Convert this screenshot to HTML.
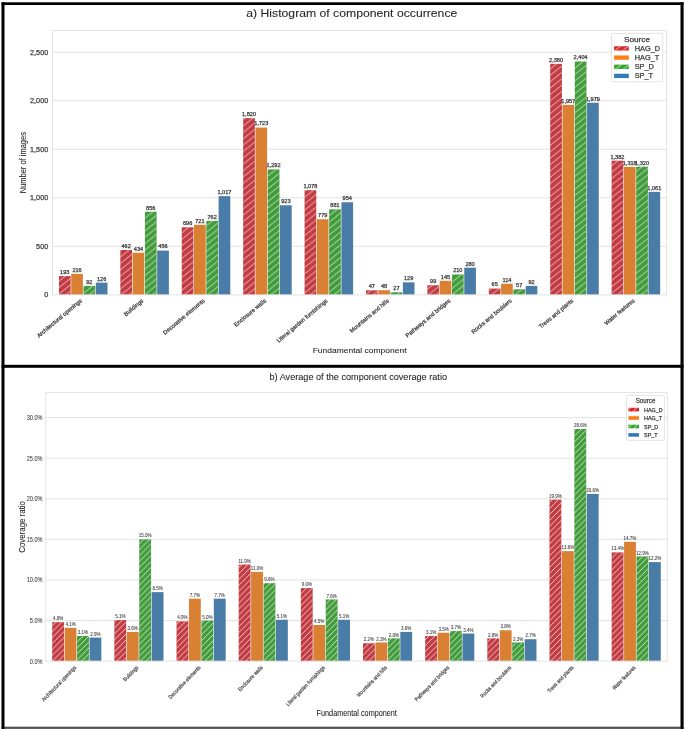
<!DOCTYPE html><html><head><meta charset="utf-8"><style>html,body{margin:0;padding:0;background:#fff;}svg{display:block;will-change:transform;font-family:"Liberation Sans",sans-serif;}</style></head><body><svg width="685" height="730" viewBox="0 0 685 730" font-family="Liberation Sans, sans-serif"><defs><filter id="tb" x="-20%" y="-50%" width="140%" height="200%"><feGaussianBlur stdDeviation="0.28"/></filter><pattern id="h1" patternUnits="userSpaceOnUse" x="0" y="4.06" width="7.882" height="6.370"><path d="M-7.882,12.740 L15.764,-6.370" stroke="#fff" stroke-opacity="0.95" stroke-width="0.75" fill="none"/></pattern><pattern id="h2" patternUnits="userSpaceOnUse" x="0" y="4.64" width="5.862" height="5.910"><path d="M-5.862,11.820 L11.724,-5.910" stroke="#fff" stroke-opacity="0.95" stroke-width="0.75" fill="none"/></pattern><pattern id="h1L" patternUnits="userSpaceOnUse" x="0" y="1.20" width="7.960" height="6.370"><path d="M-7.960,12.740 L15.920,-6.370" stroke="#fff" stroke-opacity="0.85" stroke-width="0.9" fill="none"/></pattern><pattern id="h2L" patternUnits="userSpaceOnUse" x="0" y="0.71" width="6.000" height="5.910"><path d="M-6.000,11.820 L12.000,-5.910" stroke="#fff" stroke-opacity="0.8" stroke-width="0.9" fill="none"/></pattern></defs><rect x="0" y="0" width="685" height="730" fill="#fff"/>
<line x1="52.50" y1="246.31" x2="666.60" y2="246.31" stroke="#e3e3e3" stroke-width="1.0"/>
<line x1="52.50" y1="197.78" x2="666.60" y2="197.78" stroke="#e3e3e3" stroke-width="1.0"/>
<line x1="52.50" y1="149.24" x2="666.60" y2="149.24" stroke="#e3e3e3" stroke-width="1.0"/>
<line x1="52.50" y1="100.70" x2="666.60" y2="100.70" stroke="#e3e3e3" stroke-width="1.0"/>
<line x1="52.50" y1="52.17" x2="666.60" y2="52.17" stroke="#e3e3e3" stroke-width="1.0"/>
<rect x="58.94" y="276.11" width="11.68" height="18.74" fill="#c33b42"/>
<rect x="58.94" y="276.11" width="11.68" height="18.74" fill="url(#h1)"/>
<text x="64.78" y="274.01" font-size="4.90" text-anchor="middle" textLength="9.32" lengthAdjust="spacingAndGlyphs" fill="#404040" stroke="#404040" stroke-width="0.25">193</text>
<rect x="71.22" y="273.88" width="11.68" height="20.97" fill="#d98033"/>
<text x="77.06" y="271.78" font-size="4.90" text-anchor="middle" textLength="9.32" lengthAdjust="spacingAndGlyphs" fill="#404040" stroke="#404040" stroke-width="0.25">216</text>
<rect x="83.50" y="285.92" width="11.68" height="8.93" fill="#429c3c"/>
<rect x="83.50" y="285.92" width="11.68" height="8.93" fill="url(#h1)"/>
<text x="89.35" y="283.82" font-size="4.90" text-anchor="middle" textLength="6.21" lengthAdjust="spacingAndGlyphs" fill="#404040" stroke="#404040" stroke-width="0.25">92</text>
<rect x="95.79" y="282.62" width="11.68" height="12.23" fill="#497ca6"/>
<text x="101.63" y="280.52" font-size="4.90" text-anchor="middle" textLength="9.32" lengthAdjust="spacingAndGlyphs" fill="#404040" stroke="#404040" stroke-width="0.25">126</text>
<rect x="120.35" y="250.00" width="11.68" height="44.85" fill="#c33b42"/>
<rect x="120.35" y="250.00" width="11.68" height="44.85" fill="url(#h1)"/>
<text x="126.19" y="247.90" font-size="4.90" text-anchor="middle" textLength="9.32" lengthAdjust="spacingAndGlyphs" fill="#404040" stroke="#404040" stroke-width="0.25">462</text>
<rect x="132.63" y="252.72" width="11.68" height="42.13" fill="#d98033"/>
<text x="138.47" y="250.62" font-size="4.90" text-anchor="middle" textLength="9.32" lengthAdjust="spacingAndGlyphs" fill="#404040" stroke="#404040" stroke-width="0.25">434</text>
<rect x="144.92" y="211.75" width="11.68" height="83.10" fill="#429c3c"/>
<rect x="144.92" y="211.75" width="11.68" height="83.10" fill="url(#h1)"/>
<text x="150.76" y="209.65" font-size="4.90" text-anchor="middle" textLength="9.32" lengthAdjust="spacingAndGlyphs" fill="#404040" stroke="#404040" stroke-width="0.25">856</text>
<rect x="157.20" y="250.58" width="11.68" height="44.27" fill="#497ca6"/>
<text x="163.04" y="248.48" font-size="4.90" text-anchor="middle" textLength="9.32" lengthAdjust="spacingAndGlyphs" fill="#404040" stroke="#404040" stroke-width="0.25">456</text>
<rect x="181.76" y="227.29" width="11.68" height="67.56" fill="#c33b42"/>
<rect x="181.76" y="227.29" width="11.68" height="67.56" fill="url(#h1)"/>
<text x="187.60" y="225.19" font-size="4.90" text-anchor="middle" textLength="9.32" lengthAdjust="spacingAndGlyphs" fill="#404040" stroke="#404040" stroke-width="0.25">696</text>
<rect x="194.04" y="224.86" width="11.68" height="69.99" fill="#d98033"/>
<text x="199.88" y="222.76" font-size="4.90" text-anchor="middle" textLength="9.32" lengthAdjust="spacingAndGlyphs" fill="#404040" stroke="#404040" stroke-width="0.25">721</text>
<rect x="206.33" y="220.88" width="11.68" height="73.97" fill="#429c3c"/>
<rect x="206.33" y="220.88" width="11.68" height="73.97" fill="url(#h1)"/>
<text x="212.17" y="218.78" font-size="4.90" text-anchor="middle" textLength="9.32" lengthAdjust="spacingAndGlyphs" fill="#404040" stroke="#404040" stroke-width="0.25">762</text>
<rect x="218.61" y="196.13" width="11.68" height="98.72" fill="#497ca6"/>
<text x="224.45" y="194.03" font-size="4.90" text-anchor="middle" textLength="13.98" lengthAdjust="spacingAndGlyphs" fill="#404040" stroke="#404040" stroke-width="0.25">1,017</text>
<rect x="243.17" y="118.18" width="11.68" height="176.67" fill="#c33b42"/>
<rect x="243.17" y="118.18" width="11.68" height="176.67" fill="url(#h1)"/>
<text x="249.01" y="116.08" font-size="4.90" text-anchor="middle" textLength="13.98" lengthAdjust="spacingAndGlyphs" fill="#404040" stroke="#404040" stroke-width="0.25">1,820</text>
<rect x="255.45" y="127.59" width="11.68" height="167.26" fill="#d98033"/>
<text x="261.29" y="125.49" font-size="4.90" text-anchor="middle" textLength="13.98" lengthAdjust="spacingAndGlyphs" fill="#404040" stroke="#404040" stroke-width="0.25">1,723</text>
<rect x="267.74" y="169.43" width="11.68" height="125.42" fill="#429c3c"/>
<rect x="267.74" y="169.43" width="11.68" height="125.42" fill="url(#h1)"/>
<text x="273.58" y="167.33" font-size="4.90" text-anchor="middle" textLength="13.98" lengthAdjust="spacingAndGlyphs" fill="#404040" stroke="#404040" stroke-width="0.25">1,292</text>
<rect x="280.02" y="205.25" width="11.68" height="89.60" fill="#497ca6"/>
<text x="285.86" y="203.15" font-size="4.90" text-anchor="middle" textLength="9.32" lengthAdjust="spacingAndGlyphs" fill="#404040" stroke="#404040" stroke-width="0.25">923</text>
<rect x="304.58" y="190.20" width="11.68" height="104.65" fill="#c33b42"/>
<rect x="304.58" y="190.20" width="11.68" height="104.65" fill="url(#h1)"/>
<text x="310.42" y="188.10" font-size="4.90" text-anchor="middle" textLength="13.98" lengthAdjust="spacingAndGlyphs" fill="#404040" stroke="#404040" stroke-width="0.25">1,078</text>
<rect x="316.86" y="219.23" width="11.68" height="75.62" fill="#d98033"/>
<text x="322.70" y="217.13" font-size="4.90" text-anchor="middle" textLength="9.32" lengthAdjust="spacingAndGlyphs" fill="#404040" stroke="#404040" stroke-width="0.25">779</text>
<rect x="329.15" y="209.33" width="11.68" height="85.52" fill="#429c3c"/>
<rect x="329.15" y="209.33" width="11.68" height="85.52" fill="url(#h1)"/>
<text x="334.99" y="207.23" font-size="4.90" text-anchor="middle" textLength="9.32" lengthAdjust="spacingAndGlyphs" fill="#404040" stroke="#404040" stroke-width="0.25">881</text>
<rect x="341.43" y="202.24" width="11.68" height="92.61" fill="#497ca6"/>
<text x="347.27" y="200.14" font-size="4.90" text-anchor="middle" textLength="9.32" lengthAdjust="spacingAndGlyphs" fill="#404040" stroke="#404040" stroke-width="0.25">954</text>
<rect x="365.99" y="290.29" width="11.68" height="4.56" fill="#c33b42"/>
<rect x="365.99" y="290.29" width="11.68" height="4.56" fill="url(#h1)"/>
<text x="371.83" y="288.19" font-size="4.90" text-anchor="middle" textLength="6.21" lengthAdjust="spacingAndGlyphs" fill="#404040" stroke="#404040" stroke-width="0.25">47</text>
<rect x="378.27" y="290.19" width="11.68" height="4.66" fill="#d98033"/>
<text x="384.11" y="288.09" font-size="4.90" text-anchor="middle" textLength="6.21" lengthAdjust="spacingAndGlyphs" fill="#404040" stroke="#404040" stroke-width="0.25">48</text>
<rect x="390.56" y="292.23" width="11.68" height="2.62" fill="#429c3c"/>
<rect x="390.56" y="292.23" width="11.68" height="2.62" fill="url(#h1)"/>
<text x="396.40" y="290.13" font-size="4.90" text-anchor="middle" textLength="6.21" lengthAdjust="spacingAndGlyphs" fill="#404040" stroke="#404040" stroke-width="0.25">27</text>
<rect x="402.84" y="282.33" width="11.68" height="12.52" fill="#497ca6"/>
<text x="408.68" y="280.23" font-size="4.90" text-anchor="middle" textLength="9.32" lengthAdjust="spacingAndGlyphs" fill="#404040" stroke="#404040" stroke-width="0.25">129</text>
<rect x="427.40" y="285.24" width="11.68" height="9.61" fill="#c33b42"/>
<rect x="427.40" y="285.24" width="11.68" height="9.61" fill="url(#h1)"/>
<text x="433.24" y="283.14" font-size="4.90" text-anchor="middle" textLength="6.21" lengthAdjust="spacingAndGlyphs" fill="#404040" stroke="#404040" stroke-width="0.25">99</text>
<rect x="439.68" y="280.77" width="11.68" height="14.08" fill="#d98033"/>
<text x="445.52" y="278.67" font-size="4.90" text-anchor="middle" textLength="9.32" lengthAdjust="spacingAndGlyphs" fill="#404040" stroke="#404040" stroke-width="0.25">145</text>
<rect x="451.97" y="274.46" width="11.68" height="20.39" fill="#429c3c"/>
<rect x="451.97" y="274.46" width="11.68" height="20.39" fill="url(#h1)"/>
<text x="457.81" y="272.36" font-size="4.90" text-anchor="middle" textLength="9.32" lengthAdjust="spacingAndGlyphs" fill="#404040" stroke="#404040" stroke-width="0.25">210</text>
<rect x="464.25" y="267.67" width="11.68" height="27.18" fill="#497ca6"/>
<text x="470.09" y="265.57" font-size="4.90" text-anchor="middle" textLength="9.32" lengthAdjust="spacingAndGlyphs" fill="#404040" stroke="#404040" stroke-width="0.25">280</text>
<rect x="488.81" y="288.54" width="11.68" height="6.31" fill="#c33b42"/>
<rect x="488.81" y="288.54" width="11.68" height="6.31" fill="url(#h1)"/>
<text x="494.65" y="286.44" font-size="4.90" text-anchor="middle" textLength="6.21" lengthAdjust="spacingAndGlyphs" fill="#404040" stroke="#404040" stroke-width="0.25">65</text>
<rect x="501.09" y="283.78" width="11.68" height="11.07" fill="#d98033"/>
<text x="506.93" y="281.68" font-size="4.90" text-anchor="middle" textLength="8.91" lengthAdjust="spacingAndGlyphs" fill="#404040" stroke="#404040" stroke-width="0.25">114</text>
<rect x="513.38" y="289.32" width="11.68" height="5.53" fill="#429c3c"/>
<rect x="513.38" y="289.32" width="11.68" height="5.53" fill="url(#h1)"/>
<text x="519.22" y="287.22" font-size="4.90" text-anchor="middle" textLength="6.21" lengthAdjust="spacingAndGlyphs" fill="#404040" stroke="#404040" stroke-width="0.25">57</text>
<rect x="525.66" y="285.92" width="11.68" height="8.93" fill="#497ca6"/>
<text x="531.50" y="283.82" font-size="4.90" text-anchor="middle" textLength="6.21" lengthAdjust="spacingAndGlyphs" fill="#404040" stroke="#404040" stroke-width="0.25">92</text>
<rect x="550.22" y="63.81" width="11.68" height="231.04" fill="#c33b42"/>
<rect x="550.22" y="63.81" width="11.68" height="231.04" fill="url(#h1)"/>
<text x="556.06" y="61.71" font-size="4.90" text-anchor="middle" textLength="13.98" lengthAdjust="spacingAndGlyphs" fill="#404040" stroke="#404040" stroke-width="0.25">2,380</text>
<rect x="562.50" y="104.88" width="11.68" height="189.97" fill="#d98033"/>
<text x="568.34" y="102.78" font-size="4.90" text-anchor="middle" textLength="13.98" lengthAdjust="spacingAndGlyphs" fill="#404040" stroke="#404040" stroke-width="0.25">1,957</text>
<rect x="574.78" y="61.48" width="11.68" height="233.37" fill="#429c3c"/>
<rect x="574.78" y="61.48" width="11.68" height="233.37" fill="url(#h1)"/>
<text x="580.63" y="59.38" font-size="4.90" text-anchor="middle" textLength="13.98" lengthAdjust="spacingAndGlyphs" fill="#404040" stroke="#404040" stroke-width="0.25">2,404</text>
<rect x="587.07" y="102.74" width="11.68" height="192.11" fill="#497ca6"/>
<text x="592.91" y="100.64" font-size="4.90" text-anchor="middle" textLength="13.98" lengthAdjust="spacingAndGlyphs" fill="#404040" stroke="#404040" stroke-width="0.25">1,979</text>
<rect x="611.63" y="160.69" width="11.68" height="134.16" fill="#c33b42"/>
<rect x="611.63" y="160.69" width="11.68" height="134.16" fill="url(#h1)"/>
<text x="617.47" y="158.59" font-size="4.90" text-anchor="middle" textLength="13.98" lengthAdjust="spacingAndGlyphs" fill="#404040" stroke="#404040" stroke-width="0.25">1,382</text>
<rect x="623.91" y="166.91" width="11.68" height="127.94" fill="#d98033"/>
<text x="629.75" y="164.81" font-size="4.90" text-anchor="middle" textLength="13.98" lengthAdjust="spacingAndGlyphs" fill="#404040" stroke="#404040" stroke-width="0.25">1,318</text>
<rect x="636.19" y="166.71" width="11.68" height="128.14" fill="#429c3c"/>
<rect x="636.19" y="166.71" width="11.68" height="128.14" fill="url(#h1)"/>
<text x="642.04" y="164.61" font-size="4.90" text-anchor="middle" textLength="13.98" lengthAdjust="spacingAndGlyphs" fill="#404040" stroke="#404040" stroke-width="0.25">1,320</text>
<rect x="648.48" y="191.85" width="11.68" height="103.00" fill="#497ca6"/>
<text x="654.32" y="189.75" font-size="4.90" text-anchor="middle" textLength="13.98" lengthAdjust="spacingAndGlyphs" fill="#404040" stroke="#404040" stroke-width="0.25">1,061</text>
<rect x="52.50" y="30.50" width="614.10" height="264.35" fill="none" stroke="#e3e3e3" stroke-width="1.0"/>
<text x="48.20" y="297.35" font-size="7.10" text-anchor="end" textLength="4.03" lengthAdjust="spacingAndGlyphs" fill="#404040" stroke="#404040" stroke-width="0.25">0</text>
<text x="48.20" y="248.81" font-size="7.10" text-anchor="end" textLength="12.08" lengthAdjust="spacingAndGlyphs" fill="#404040" stroke="#404040" stroke-width="0.25">500</text>
<text x="48.20" y="200.28" font-size="7.10" text-anchor="end" textLength="18.12" lengthAdjust="spacingAndGlyphs" fill="#404040" stroke="#404040" stroke-width="0.25">1,000</text>
<text x="48.20" y="151.74" font-size="7.10" text-anchor="end" textLength="18.12" lengthAdjust="spacingAndGlyphs" fill="#404040" stroke="#404040" stroke-width="0.25">1,500</text>
<text x="48.20" y="103.20" font-size="7.10" text-anchor="end" textLength="18.12" lengthAdjust="spacingAndGlyphs" fill="#404040" stroke="#404040" stroke-width="0.25">2,000</text>
<text x="48.20" y="54.67" font-size="7.10" text-anchor="end" textLength="18.12" lengthAdjust="spacingAndGlyphs" fill="#404040" stroke="#404040" stroke-width="0.25">2,500</text>
<text x="82.41" y="301.40" font-size="5.80" text-anchor="end" textLength="56.81" lengthAdjust="spacingAndGlyphs" fill="#404040" stroke="#404040" stroke-width="0.25" transform="rotate(-40.00 82.41 301.40)">Architectural openings</text>
<text x="143.81" y="301.40" font-size="5.80" text-anchor="end" textLength="23.30" lengthAdjust="spacingAndGlyphs" fill="#404040" stroke="#404040" stroke-width="0.25" transform="rotate(-40.00 143.81 301.40)">Buildings</text>
<text x="205.22" y="301.40" font-size="5.80" text-anchor="end" textLength="52.34" lengthAdjust="spacingAndGlyphs" fill="#404040" stroke="#404040" stroke-width="0.25" transform="rotate(-40.00 205.22 301.40)">Decorative elements</text>
<text x="266.63" y="301.40" font-size="5.80" text-anchor="end" textLength="39.89" lengthAdjust="spacingAndGlyphs" fill="#404040" stroke="#404040" stroke-width="0.25" transform="rotate(-40.00 266.63 301.40)">Enclosure walls</text>
<text x="328.05" y="301.40" font-size="5.80" text-anchor="end" textLength="64.48" lengthAdjust="spacingAndGlyphs" fill="#404040" stroke="#404040" stroke-width="0.25" transform="rotate(-40.00 328.05 301.40)">Literal garden furnishings</text>
<text x="389.45" y="301.40" font-size="5.80" text-anchor="end" textLength="49.15" lengthAdjust="spacingAndGlyphs" fill="#404040" stroke="#404040" stroke-width="0.25" transform="rotate(-40.00 389.45 301.40)">Mountains and hills</text>
<text x="450.87" y="301.40" font-size="5.80" text-anchor="end" textLength="56.50" lengthAdjust="spacingAndGlyphs" fill="#404040" stroke="#404040" stroke-width="0.25" transform="rotate(-40.00 450.87 301.40)">Pathways and bridges</text>
<text x="512.28" y="301.40" font-size="5.80" text-anchor="end" textLength="50.75" lengthAdjust="spacingAndGlyphs" fill="#404040" stroke="#404040" stroke-width="0.25" transform="rotate(-40.00 512.28 301.40)">Rocks and boulders</text>
<text x="573.69" y="301.40" font-size="5.80" text-anchor="end" textLength="42.56" lengthAdjust="spacingAndGlyphs" fill="#404040" stroke="#404040" stroke-width="0.25" transform="rotate(-40.00 573.69 301.40)">Trees and plants</text>
<text x="635.10" y="301.40" font-size="5.80" text-anchor="end" textLength="37.44" lengthAdjust="spacingAndGlyphs" fill="#404040" stroke="#404040" stroke-width="0.25" transform="rotate(-40.00 635.10 301.40)">Water features</text>
<line x1="45.70" y1="620.54" x2="667.30" y2="620.54" stroke="#e3e3e3" stroke-width="1.0"/>
<line x1="45.70" y1="579.96" x2="667.30" y2="579.96" stroke="#e3e3e3" stroke-width="1.0"/>
<line x1="45.70" y1="539.38" x2="667.30" y2="539.38" stroke="#e3e3e3" stroke-width="1.0"/>
<line x1="45.70" y1="498.80" x2="667.30" y2="498.80" stroke="#e3e3e3" stroke-width="1.0"/>
<line x1="45.70" y1="458.22" x2="667.30" y2="458.22" stroke="#e3e3e3" stroke-width="1.0"/>
<line x1="45.70" y1="417.64" x2="667.30" y2="417.64" stroke="#e3e3e3" stroke-width="1.0"/>
<rect x="52.22" y="622.16" width="11.83" height="38.96" fill="#c33b42"/>
<rect x="52.22" y="622.16" width="11.83" height="38.96" fill="url(#h2)"/>
<text x="58.13" y="620.26" font-size="5.00" text-anchor="middle" textLength="10.26" lengthAdjust="spacingAndGlyphs" fill="#404040" stroke="#404040" stroke-width="0.08">4.8%</text>
<rect x="64.65" y="627.84" width="11.83" height="33.28" fill="#d98033"/>
<text x="70.56" y="625.94" font-size="5.00" text-anchor="middle" textLength="10.26" lengthAdjust="spacingAndGlyphs" fill="#404040" stroke="#404040" stroke-width="0.08">4.1%</text>
<rect x="77.08" y="635.96" width="11.83" height="25.16" fill="#429c3c"/>
<rect x="77.08" y="635.96" width="11.83" height="25.16" fill="url(#h2)"/>
<text x="83.00" y="634.06" font-size="5.00" text-anchor="middle" textLength="10.26" lengthAdjust="spacingAndGlyphs" fill="#404040" stroke="#404040" stroke-width="0.08">3.1%</text>
<rect x="89.51" y="637.58" width="11.83" height="23.54" fill="#497ca6"/>
<text x="95.43" y="635.68" font-size="5.00" text-anchor="middle" textLength="10.26" lengthAdjust="spacingAndGlyphs" fill="#404040" stroke="#404040" stroke-width="0.08">2.9%</text>
<rect x="114.38" y="620.13" width="11.83" height="40.99" fill="#c33b42"/>
<rect x="114.38" y="620.13" width="11.83" height="40.99" fill="url(#h2)"/>
<text x="120.29" y="618.23" font-size="5.00" text-anchor="middle" textLength="10.26" lengthAdjust="spacingAndGlyphs" fill="#404040" stroke="#404040" stroke-width="0.08">5.1%</text>
<rect x="126.81" y="631.90" width="11.83" height="29.22" fill="#d98033"/>
<text x="132.72" y="630.00" font-size="5.00" text-anchor="middle" textLength="10.26" lengthAdjust="spacingAndGlyphs" fill="#404040" stroke="#404040" stroke-width="0.08">3.6%</text>
<rect x="139.24" y="539.38" width="11.83" height="121.74" fill="#429c3c"/>
<rect x="139.24" y="539.38" width="11.83" height="121.74" fill="url(#h2)"/>
<text x="145.16" y="537.48" font-size="5.00" text-anchor="middle" textLength="12.76" lengthAdjust="spacingAndGlyphs" fill="#404040" stroke="#404040" stroke-width="0.08">15.0%</text>
<rect x="151.67" y="592.13" width="11.83" height="68.99" fill="#497ca6"/>
<text x="157.59" y="590.23" font-size="5.00" text-anchor="middle" textLength="10.26" lengthAdjust="spacingAndGlyphs" fill="#404040" stroke="#404040" stroke-width="0.08">8.5%</text>
<rect x="176.54" y="621.35" width="11.83" height="39.77" fill="#c33b42"/>
<rect x="176.54" y="621.35" width="11.83" height="39.77" fill="url(#h2)"/>
<text x="182.45" y="619.45" font-size="5.00" text-anchor="middle" textLength="10.26" lengthAdjust="spacingAndGlyphs" fill="#404040" stroke="#404040" stroke-width="0.08">4.9%</text>
<rect x="188.97" y="598.63" width="11.83" height="62.49" fill="#d98033"/>
<text x="194.88" y="596.73" font-size="5.00" text-anchor="middle" textLength="10.26" lengthAdjust="spacingAndGlyphs" fill="#404040" stroke="#404040" stroke-width="0.08">7.7%</text>
<rect x="201.40" y="620.54" width="11.83" height="40.58" fill="#429c3c"/>
<rect x="201.40" y="620.54" width="11.83" height="40.58" fill="url(#h2)"/>
<text x="207.32" y="618.64" font-size="5.00" text-anchor="middle" textLength="10.26" lengthAdjust="spacingAndGlyphs" fill="#404040" stroke="#404040" stroke-width="0.08">5.0%</text>
<rect x="213.83" y="598.63" width="11.83" height="62.49" fill="#497ca6"/>
<text x="219.75" y="596.73" font-size="5.00" text-anchor="middle" textLength="10.26" lengthAdjust="spacingAndGlyphs" fill="#404040" stroke="#404040" stroke-width="0.08">7.7%</text>
<rect x="238.70" y="564.54" width="11.83" height="96.58" fill="#c33b42"/>
<rect x="238.70" y="564.54" width="11.83" height="96.58" fill="url(#h2)"/>
<text x="244.61" y="562.64" font-size="5.00" text-anchor="middle" textLength="12.43" lengthAdjust="spacingAndGlyphs" fill="#404040" stroke="#404040" stroke-width="0.08">11.9%</text>
<rect x="251.13" y="571.84" width="11.83" height="89.28" fill="#d98033"/>
<text x="257.04" y="569.94" font-size="5.00" text-anchor="middle" textLength="12.43" lengthAdjust="spacingAndGlyphs" fill="#404040" stroke="#404040" stroke-width="0.08">11.0%</text>
<rect x="263.56" y="583.21" width="11.83" height="77.91" fill="#429c3c"/>
<rect x="263.56" y="583.21" width="11.83" height="77.91" fill="url(#h2)"/>
<text x="269.48" y="581.31" font-size="5.00" text-anchor="middle" textLength="10.26" lengthAdjust="spacingAndGlyphs" fill="#404040" stroke="#404040" stroke-width="0.08">9.6%</text>
<rect x="275.99" y="619.73" width="11.83" height="41.39" fill="#497ca6"/>
<text x="281.91" y="617.83" font-size="5.00" text-anchor="middle" textLength="10.26" lengthAdjust="spacingAndGlyphs" fill="#404040" stroke="#404040" stroke-width="0.08">5.1%</text>
<rect x="300.86" y="588.08" width="11.83" height="73.04" fill="#c33b42"/>
<rect x="300.86" y="588.08" width="11.83" height="73.04" fill="url(#h2)"/>
<text x="306.77" y="586.18" font-size="5.00" text-anchor="middle" textLength="10.26" lengthAdjust="spacingAndGlyphs" fill="#404040" stroke="#404040" stroke-width="0.08">9.0%</text>
<rect x="313.29" y="625.00" width="11.83" height="36.12" fill="#d98033"/>
<text x="319.20" y="623.10" font-size="5.00" text-anchor="middle" textLength="10.26" lengthAdjust="spacingAndGlyphs" fill="#404040" stroke="#404040" stroke-width="0.08">4.5%</text>
<rect x="325.72" y="599.44" width="11.83" height="61.68" fill="#429c3c"/>
<rect x="325.72" y="599.44" width="11.83" height="61.68" fill="url(#h2)"/>
<text x="331.64" y="597.54" font-size="5.00" text-anchor="middle" textLength="10.26" lengthAdjust="spacingAndGlyphs" fill="#404040" stroke="#404040" stroke-width="0.08">7.6%</text>
<rect x="338.15" y="619.73" width="11.83" height="41.39" fill="#497ca6"/>
<text x="344.07" y="617.83" font-size="5.00" text-anchor="middle" textLength="10.26" lengthAdjust="spacingAndGlyphs" fill="#404040" stroke="#404040" stroke-width="0.08">5.1%</text>
<rect x="363.02" y="643.26" width="11.83" height="17.86" fill="#c33b42"/>
<rect x="363.02" y="643.26" width="11.83" height="17.86" fill="url(#h2)"/>
<text x="368.93" y="641.36" font-size="5.00" text-anchor="middle" textLength="10.26" lengthAdjust="spacingAndGlyphs" fill="#404040" stroke="#404040" stroke-width="0.08">2.2%</text>
<rect x="375.45" y="642.45" width="11.83" height="18.67" fill="#d98033"/>
<text x="381.36" y="640.55" font-size="5.00" text-anchor="middle" textLength="10.26" lengthAdjust="spacingAndGlyphs" fill="#404040" stroke="#404040" stroke-width="0.08">2.3%</text>
<rect x="387.88" y="638.40" width="11.83" height="22.72" fill="#429c3c"/>
<rect x="387.88" y="638.40" width="11.83" height="22.72" fill="url(#h2)"/>
<text x="393.80" y="636.50" font-size="5.00" text-anchor="middle" textLength="10.26" lengthAdjust="spacingAndGlyphs" fill="#404040" stroke="#404040" stroke-width="0.08">2.8%</text>
<rect x="400.31" y="631.90" width="11.83" height="29.22" fill="#497ca6"/>
<text x="406.23" y="630.00" font-size="5.00" text-anchor="middle" textLength="10.26" lengthAdjust="spacingAndGlyphs" fill="#404040" stroke="#404040" stroke-width="0.08">3.6%</text>
<rect x="425.18" y="635.96" width="11.83" height="25.16" fill="#c33b42"/>
<rect x="425.18" y="635.96" width="11.83" height="25.16" fill="url(#h2)"/>
<text x="431.09" y="634.06" font-size="5.00" text-anchor="middle" textLength="10.26" lengthAdjust="spacingAndGlyphs" fill="#404040" stroke="#404040" stroke-width="0.08">3.1%</text>
<rect x="437.61" y="632.71" width="11.83" height="28.41" fill="#d98033"/>
<text x="443.52" y="630.81" font-size="5.00" text-anchor="middle" textLength="10.26" lengthAdjust="spacingAndGlyphs" fill="#404040" stroke="#404040" stroke-width="0.08">3.5%</text>
<rect x="450.04" y="631.09" width="11.83" height="30.03" fill="#429c3c"/>
<rect x="450.04" y="631.09" width="11.83" height="30.03" fill="url(#h2)"/>
<text x="455.96" y="629.19" font-size="5.00" text-anchor="middle" textLength="10.26" lengthAdjust="spacingAndGlyphs" fill="#404040" stroke="#404040" stroke-width="0.08">3.7%</text>
<rect x="462.47" y="633.53" width="11.83" height="27.59" fill="#497ca6"/>
<text x="468.39" y="631.63" font-size="5.00" text-anchor="middle" textLength="10.26" lengthAdjust="spacingAndGlyphs" fill="#404040" stroke="#404040" stroke-width="0.08">3.4%</text>
<rect x="487.34" y="638.40" width="11.83" height="22.72" fill="#c33b42"/>
<rect x="487.34" y="638.40" width="11.83" height="22.72" fill="url(#h2)"/>
<text x="493.25" y="636.50" font-size="5.00" text-anchor="middle" textLength="10.26" lengthAdjust="spacingAndGlyphs" fill="#404040" stroke="#404040" stroke-width="0.08">2.8%</text>
<rect x="499.77" y="630.28" width="11.83" height="30.84" fill="#d98033"/>
<text x="505.68" y="628.38" font-size="5.00" text-anchor="middle" textLength="10.26" lengthAdjust="spacingAndGlyphs" fill="#404040" stroke="#404040" stroke-width="0.08">3.8%</text>
<rect x="512.20" y="642.45" width="11.83" height="18.67" fill="#429c3c"/>
<rect x="512.20" y="642.45" width="11.83" height="18.67" fill="url(#h2)"/>
<text x="518.12" y="640.55" font-size="5.00" text-anchor="middle" textLength="10.26" lengthAdjust="spacingAndGlyphs" fill="#404040" stroke="#404040" stroke-width="0.08">2.3%</text>
<rect x="524.63" y="639.21" width="11.83" height="21.91" fill="#497ca6"/>
<text x="530.55" y="637.31" font-size="5.00" text-anchor="middle" textLength="10.26" lengthAdjust="spacingAndGlyphs" fill="#404040" stroke="#404040" stroke-width="0.08">2.7%</text>
<rect x="549.50" y="499.61" width="11.83" height="161.51" fill="#c33b42"/>
<rect x="549.50" y="499.61" width="11.83" height="161.51" fill="url(#h2)"/>
<text x="555.41" y="497.71" font-size="5.00" text-anchor="middle" textLength="12.76" lengthAdjust="spacingAndGlyphs" fill="#404040" stroke="#404040" stroke-width="0.08">19.9%</text>
<rect x="561.93" y="551.15" width="11.83" height="109.97" fill="#d98033"/>
<text x="567.84" y="549.25" font-size="5.00" text-anchor="middle" textLength="12.76" lengthAdjust="spacingAndGlyphs" fill="#404040" stroke="#404040" stroke-width="0.08">13.6%</text>
<rect x="574.36" y="429.00" width="11.83" height="232.12" fill="#429c3c"/>
<rect x="574.36" y="429.00" width="11.83" height="232.12" fill="url(#h2)"/>
<text x="580.28" y="427.10" font-size="5.00" text-anchor="middle" textLength="12.76" lengthAdjust="spacingAndGlyphs" fill="#404040" stroke="#404040" stroke-width="0.08">28.6%</text>
<rect x="586.79" y="493.93" width="11.83" height="167.19" fill="#497ca6"/>
<text x="592.71" y="492.03" font-size="5.00" text-anchor="middle" textLength="12.76" lengthAdjust="spacingAndGlyphs" fill="#404040" stroke="#404040" stroke-width="0.08">20.6%</text>
<rect x="611.66" y="552.37" width="11.83" height="108.75" fill="#c33b42"/>
<rect x="611.66" y="552.37" width="11.83" height="108.75" fill="url(#h2)"/>
<text x="617.57" y="550.47" font-size="5.00" text-anchor="middle" textLength="12.76" lengthAdjust="spacingAndGlyphs" fill="#404040" stroke="#404040" stroke-width="0.08">13.4%</text>
<rect x="624.09" y="541.81" width="11.83" height="119.31" fill="#d98033"/>
<text x="630.00" y="539.91" font-size="5.00" text-anchor="middle" textLength="12.76" lengthAdjust="spacingAndGlyphs" fill="#404040" stroke="#404040" stroke-width="0.08">14.7%</text>
<rect x="636.52" y="556.42" width="11.83" height="104.70" fill="#429c3c"/>
<rect x="636.52" y="556.42" width="11.83" height="104.70" fill="url(#h2)"/>
<text x="642.44" y="554.52" font-size="5.00" text-anchor="middle" textLength="12.76" lengthAdjust="spacingAndGlyphs" fill="#404040" stroke="#404040" stroke-width="0.08">12.9%</text>
<rect x="648.95" y="562.10" width="11.83" height="99.02" fill="#497ca6"/>
<text x="654.87" y="560.20" font-size="5.00" text-anchor="middle" textLength="12.76" lengthAdjust="spacingAndGlyphs" fill="#404040" stroke="#404040" stroke-width="0.08">12.2%</text>
<rect x="45.70" y="392.60" width="621.60" height="268.52" fill="none" stroke="#e3e3e3" stroke-width="1.0"/>
<text x="42.60" y="663.62" font-size="7.00" text-anchor="end" textLength="12.76" lengthAdjust="spacingAndGlyphs" fill="#404040" stroke="#404040" stroke-width="0.08">0.0%</text>
<text x="42.60" y="623.04" font-size="7.00" text-anchor="end" textLength="12.76" lengthAdjust="spacingAndGlyphs" fill="#404040" stroke="#404040" stroke-width="0.08">5.0%</text>
<text x="42.60" y="582.46" font-size="7.00" text-anchor="end" textLength="15.88" lengthAdjust="spacingAndGlyphs" fill="#404040" stroke="#404040" stroke-width="0.08">10.0%</text>
<text x="42.60" y="541.88" font-size="7.00" text-anchor="end" textLength="15.88" lengthAdjust="spacingAndGlyphs" fill="#404040" stroke="#404040" stroke-width="0.08">15.0%</text>
<text x="42.60" y="501.30" font-size="7.00" text-anchor="end" textLength="15.88" lengthAdjust="spacingAndGlyphs" fill="#404040" stroke="#404040" stroke-width="0.08">20.0%</text>
<text x="42.60" y="460.72" font-size="7.00" text-anchor="end" textLength="15.88" lengthAdjust="spacingAndGlyphs" fill="#404040" stroke="#404040" stroke-width="0.08">25.0%</text>
<text x="42.60" y="420.14" font-size="7.00" text-anchor="end" textLength="15.88" lengthAdjust="spacingAndGlyphs" fill="#404040" stroke="#404040" stroke-width="0.08">30.0%</text>
<text x="76.58" y="668.00" font-size="5.50" text-anchor="end" textLength="47.02" lengthAdjust="spacingAndGlyphs" fill="#404040" stroke="#404040" stroke-width="0.18" transform="rotate(-46.00 76.58 668.00)">Architectural openings</text>
<text x="138.74" y="668.00" font-size="5.50" text-anchor="end" textLength="19.28" lengthAdjust="spacingAndGlyphs" fill="#404040" stroke="#404040" stroke-width="0.18" transform="rotate(-46.00 138.74 668.00)">Buildings</text>
<text x="200.90" y="668.00" font-size="5.50" text-anchor="end" textLength="43.32" lengthAdjust="spacingAndGlyphs" fill="#404040" stroke="#404040" stroke-width="0.18" transform="rotate(-46.00 200.90 668.00)">Decorative elements</text>
<text x="263.06" y="668.00" font-size="5.50" text-anchor="end" textLength="33.01" lengthAdjust="spacingAndGlyphs" fill="#404040" stroke="#404040" stroke-width="0.18" transform="rotate(-46.00 263.06 668.00)">Enclosure walls</text>
<text x="325.22" y="668.00" font-size="5.50" text-anchor="end" textLength="53.36" lengthAdjust="spacingAndGlyphs" fill="#404040" stroke="#404040" stroke-width="0.18" transform="rotate(-46.00 325.22 668.00)">Literal garden furnishings</text>
<text x="387.38" y="668.00" font-size="5.50" text-anchor="end" textLength="40.68" lengthAdjust="spacingAndGlyphs" fill="#404040" stroke="#404040" stroke-width="0.18" transform="rotate(-46.00 387.38 668.00)">Mountains and hills</text>
<text x="449.54" y="668.00" font-size="5.50" text-anchor="end" textLength="46.76" lengthAdjust="spacingAndGlyphs" fill="#404040" stroke="#404040" stroke-width="0.18" transform="rotate(-46.00 449.54 668.00)">Pathways and bridges</text>
<text x="511.70" y="668.00" font-size="5.50" text-anchor="end" textLength="42.00" lengthAdjust="spacingAndGlyphs" fill="#404040" stroke="#404040" stroke-width="0.18" transform="rotate(-46.00 511.70 668.00)">Rocks and boulders</text>
<text x="573.86" y="668.00" font-size="5.50" text-anchor="end" textLength="35.22" lengthAdjust="spacingAndGlyphs" fill="#404040" stroke="#404040" stroke-width="0.18" transform="rotate(-46.00 573.86 668.00)">Trees and plants</text>
<text x="636.02" y="668.00" font-size="5.50" text-anchor="end" textLength="30.99" lengthAdjust="spacingAndGlyphs" fill="#404040" stroke="#404040" stroke-width="0.18" transform="rotate(-46.00 636.02 668.00)">Water features</text>
<text x="246.30" y="16.90" font-size="10.80" text-anchor="start" textLength="211.00" lengthAdjust="spacingAndGlyphs" fill="#262626" stroke="#262626" stroke-width="0.08">a) Histogram of component occurrence</text>
<text x="269.50" y="380.40" font-size="9.20" text-anchor="start" textLength="177.50" lengthAdjust="spacingAndGlyphs" fill="#262626" stroke="#262626" stroke-width="0.08">b) Average of the component coverage ratio</text>
<text x="359.60" y="353.00" font-size="8.00" text-anchor="middle" textLength="93.90" lengthAdjust="spacingAndGlyphs" fill="#262626" stroke="#262626" stroke-width="0.08">Fundamental component</text>
<text x="356.75" y="716.10" font-size="8.30" text-anchor="middle" textLength="80.30" lengthAdjust="spacingAndGlyphs" fill="#262626" stroke="#262626" stroke-width="0.08">Fundamental component</text>
<text x="25.60" y="162.70" font-size="8.50" text-anchor="middle" textLength="61.30" lengthAdjust="spacingAndGlyphs" fill="#262626" stroke="#262626" stroke-width="0.08" transform="rotate(-90.00 25.60 162.70)">Number of images</text>
<text x="24.80" y="526.90" font-size="9.10" text-anchor="middle" textLength="51.80" lengthAdjust="spacingAndGlyphs" fill="#262626" stroke="#262626" stroke-width="0.08" transform="rotate(-90.00 24.80 526.90)">Coverage ratio</text>
<rect x="611.50" y="33.40" width="51.20" height="48.30" rx="1" fill="#fff" stroke="#dcdcdc" stroke-width="0.8"/>
<text x="637.00" y="41.60" font-size="7.00" text-anchor="middle" textLength="26.20" lengthAdjust="spacingAndGlyphs" fill="#404040" stroke="#404040" stroke-width="0.25">Source</text>
<rect x="614.10" y="46.25" width="14.70" height="4.30" fill="#d62728"/>
<rect x="614.10" y="46.25" width="14.70" height="4.30" fill="url(#h1L)"/>
<text x="634.70" y="50.69" font-size="6.40" text-anchor="start" textLength="25.40" lengthAdjust="spacingAndGlyphs" fill="#404040" stroke="#404040" stroke-width="0.25">HAG_D</text>
<rect x="614.10" y="55.45" width="14.70" height="4.30" fill="#fa7f16"/>
<text x="634.70" y="59.89" font-size="6.40" text-anchor="start" textLength="24.58" lengthAdjust="spacingAndGlyphs" fill="#404040" stroke="#404040" stroke-width="0.25">HAG_T</text>
<rect x="614.10" y="64.65" width="14.70" height="4.30" fill="#33a52c"/>
<rect x="614.10" y="64.65" width="14.70" height="4.30" fill="url(#h1L)"/>
<text x="634.70" y="69.09" font-size="6.40" text-anchor="start" textLength="19.26" lengthAdjust="spacingAndGlyphs" fill="#404040" stroke="#404040" stroke-width="0.25">SP_D</text>
<rect x="614.10" y="73.75" width="14.70" height="4.30" fill="#337bb8"/>
<text x="634.70" y="78.19" font-size="6.40" text-anchor="start" textLength="18.44" lengthAdjust="spacingAndGlyphs" fill="#404040" stroke="#404040" stroke-width="0.25">SP_T</text>
<rect x="626.40" y="395.40" width="38.00" height="44.90" rx="1" fill="#fff" stroke="#dcdcdc" stroke-width="0.8"/>
<text x="645.50" y="402.80" font-size="6.80" text-anchor="middle" textLength="19.70" lengthAdjust="spacingAndGlyphs" fill="#404040" stroke="#404040" stroke-width="0.25">Source</text>
<rect x="628.40" y="407.80" width="10.60" height="3.60" fill="#d62728"/>
<rect x="628.40" y="407.80" width="10.60" height="3.60" fill="url(#h2L)"/>
<text x="644.00" y="411.75" font-size="6.00" text-anchor="start" textLength="18.80" lengthAdjust="spacingAndGlyphs" fill="#404040" stroke="#404040" stroke-width="0.25">HAG_D</text>
<rect x="628.40" y="416.20" width="10.60" height="3.60" fill="#fa7f16"/>
<text x="644.00" y="420.15" font-size="6.00" text-anchor="start" textLength="18.19" lengthAdjust="spacingAndGlyphs" fill="#404040" stroke="#404040" stroke-width="0.25">HAG_T</text>
<rect x="628.40" y="424.70" width="10.60" height="3.60" fill="#33a52c"/>
<rect x="628.40" y="424.70" width="10.60" height="3.60" fill="url(#h2L)"/>
<text x="644.00" y="428.65" font-size="6.00" text-anchor="start" textLength="14.25" lengthAdjust="spacingAndGlyphs" fill="#404040" stroke="#404040" stroke-width="0.25">SP_D</text>
<rect x="628.40" y="433.10" width="10.60" height="3.60" fill="#337bb8"/>
<text x="644.00" y="437.05" font-size="6.00" text-anchor="start" textLength="13.65" lengthAdjust="spacingAndGlyphs" fill="#404040" stroke="#404040" stroke-width="0.25">SP_T</text>
<rect x="1.5" y="726.7" width="682.1" height="2.2" fill="#505050"/>
<rect x="1.5" y="2.3" width="3" height="726.6" fill="#000"/>
<rect x="680.5" y="2.3" width="3.1" height="726.6" fill="#000"/>
<rect x="1.5" y="2.3" width="682.1" height="2.7" fill="#000"/>
<rect x="1.5" y="364.8" width="682.1" height="3.0" fill="#000"/></svg></body></html>
